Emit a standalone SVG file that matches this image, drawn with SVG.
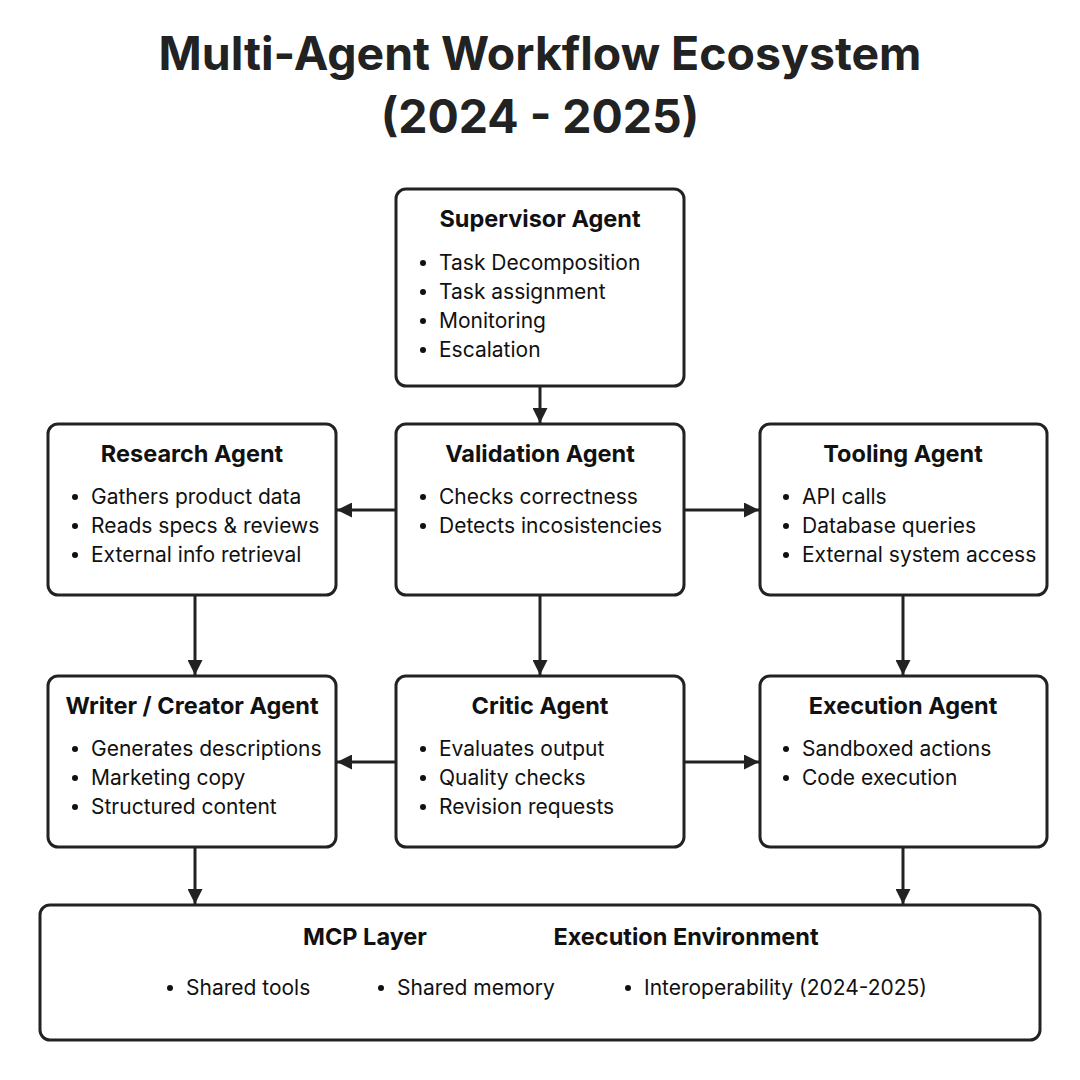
<svg xmlns="http://www.w3.org/2000/svg" width="1080" height="1080" viewBox="0 0 1080 1080">
<style>
.box{fill:#fff;stroke:#222;stroke-width:3}
.title{font-family:Inter,"Liberation Sans",sans-serif;font-weight:700;font-size:46.4px;fill:#222;text-anchor:middle}
.h{font-family:Inter,"Liberation Sans",sans-serif;font-weight:700;font-size:23.5px;fill:#111;text-anchor:middle}
.t{font-family:Inter,"Liberation Sans",sans-serif;font-size:21px;fill:#111}
.d{fill:#111}
.c{stroke:#222;stroke-width:3;fill:none;marker-end:url(#ah)}
</style>
<defs>
<marker id="ah" viewBox="0 0 10 10" refX="10" refY="5" markerWidth="5" markerHeight="5" orient="auto" markerUnits="strokeWidth">
<path d="M0,0 L10,5 L0,10 z" fill="#222"/>
</marker>
</defs>
<rect width="1080" height="1080" fill="#fff"/>
<text class="title" x="540" y="70">Multi-Agent Workflow Ecosystem</text>
<text class="title" x="540" y="133">(2024 - 2025)</text>

<g id="connectors">
<line class="c" x1="540" y1="386" x2="540" y2="423"/>
<line class="c" x1="396" y1="510" x2="337" y2="510"/>
<line class="c" x1="684" y1="510" x2="759" y2="510"/>
<line class="c" x1="195" y1="595" x2="195" y2="675"/>
<line class="c" x1="540" y1="595" x2="540" y2="675"/>
<line class="c" x1="903" y1="595" x2="903" y2="675"/>
<line class="c" x1="396" y1="762" x2="337" y2="762"/>
<line class="c" x1="684" y1="762" x2="759" y2="762"/>
<line class="c" x1="195" y1="847" x2="195" y2="904"/>
<line class="c" x1="903" y1="847" x2="903" y2="904"/>
</g>

<g id="supervisor">
<rect class="box" x="396" y="189" width="288" height="197" rx="10"/>
<text class="h" x="540" y="227">Supervisor Agent</text>
<circle class="d" cx="423" cy="263" r="3"/><text class="t" x="439" y="270">Task Decomposition</text>
<circle class="d" cx="423" cy="292" r="3"/><text class="t" x="439" y="299">Task assignment</text>
<circle class="d" cx="423" cy="321" r="3"/><text class="t" x="439" y="328">Monitoring</text>
<circle class="d" cx="423" cy="350" r="3"/><text class="t" x="439" y="357">Escalation</text>
</g>

<g id="research">
<rect class="box" x="48" y="424" width="288" height="171" rx="10"/>
<text class="h" x="192" y="462">Research Agent</text>
<circle class="d" cx="75" cy="497" r="3"/><text class="t" x="91" y="504">Gathers product data</text>
<circle class="d" cx="75" cy="526" r="3"/><text class="t" x="91" y="533">Reads specs &amp; reviews</text>
<circle class="d" cx="75" cy="555" r="3"/><text class="t" x="91" y="562">External info retrieval</text>
</g>

<g id="validation">
<rect class="box" x="396" y="424" width="288" height="171" rx="10"/>
<text class="h" x="540" y="462">Validation Agent</text>
<circle class="d" cx="423" cy="497" r="3"/><text class="t" x="439" y="504">Checks correctness</text>
<circle class="d" cx="423" cy="526" r="3"/><text class="t" x="439" y="533">Detects incosistencies</text>
</g>

<g id="tooling">
<rect class="box" x="760" y="424" width="287" height="171" rx="10"/>
<text class="h" x="903" y="462">Tooling Agent</text>
<circle class="d" cx="786" cy="497" r="3"/><text class="t" x="802" y="504">API calls</text>
<circle class="d" cx="786" cy="526" r="3"/><text class="t" x="802" y="533">Database queries</text>
<circle class="d" cx="786" cy="555" r="3"/><text class="t" x="802" y="562">External system access</text>
</g>

<g id="writer">
<rect class="box" x="48" y="676" width="288" height="171" rx="10"/>
<text class="h" x="192" y="714">Writer / Creator Agent</text>
<circle class="d" cx="75" cy="749" r="3"/><text class="t" x="91" y="756">Generates descriptions</text>
<circle class="d" cx="75" cy="778" r="3"/><text class="t" x="91" y="785">Marketing copy</text>
<circle class="d" cx="75" cy="807" r="3"/><text class="t" x="91" y="814">Structured content</text>
</g>

<g id="critic">
<rect class="box" x="396" y="676" width="288" height="171" rx="10"/>
<text class="h" x="540" y="714">Critic Agent</text>
<circle class="d" cx="423" cy="749" r="3"/><text class="t" x="439" y="756">Evaluates output</text>
<circle class="d" cx="423" cy="778" r="3"/><text class="t" x="439" y="785">Quality checks</text>
<circle class="d" cx="423" cy="807" r="3"/><text class="t" x="439" y="814">Revision requests</text>
</g>

<g id="execution">
<rect class="box" x="760" y="676" width="287" height="171" rx="10"/>
<text class="h" x="903" y="714">Execution Agent</text>
<circle class="d" cx="786" cy="749" r="3"/><text class="t" x="802" y="756">Sandboxed actions</text>
<circle class="d" cx="786" cy="778" r="3"/><text class="t" x="802" y="785">Code execution</text>
</g>

<g id="environment">
<rect class="box" x="40" y="905" width="1000" height="135" rx="10"/>
<text class="h" x="365" y="945">MCP Layer</text>
<text class="h" x="686" y="945">Execution Environment</text>
<circle class="d" cx="170" cy="988" r="3"/><text class="t" x="186" y="995">Shared tools</text>
<circle class="d" cx="381" cy="988" r="3"/><text class="t" x="397" y="995">Shared memory</text>
<circle class="d" cx="628" cy="988" r="3"/><text class="t" x="644" y="995">Interoperability (2024-2025)</text>
</g>
</svg>
